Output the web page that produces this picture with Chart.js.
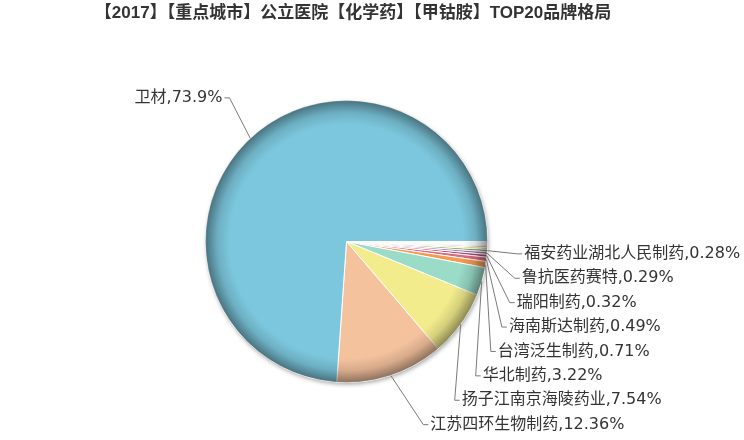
<!DOCTYPE html>
<html>
<head>
<meta charset="utf-8">
<script src="https://cdn.jsdelivr.net/npm/chart.js@4.4.1/dist/chart.umd.min.js"></script>
<style>
  html, body { margin: 0; padding: 0; background: #fff; }
  #wrap { width: 744px; height: 440px; }
</style>
</head>
<body>
<div id="wrap"><canvas id="brandPie" width="744" height="440"></canvas></div>
<script>
const titleText = '【2017】【重点城市】公立医院【化学药】【甲钴胺】TOP20品牌格局';

// TOP20, highest share first (the last eleven have no visible label in the source)
const brands = ['卫材', '江苏四环生物制药', '扬子江南京海陵药业', '华北制药', '台湾泛生制药',
  '海南斯达制药', '瑞阳制药', '鲁抗医药赛特', '福安药业湖北人民制药',
  '其他10', '其他11', '其他12', '其他13', '其他14', '其他15', '其他16',
  '其他17', '其他18', '其他19', '其他20'];
const shares = [73.9, 12.36, 7.54, 3.22, 0.71, 0.49, 0.32, 0.29, 0.28,
  0.20, 0.16, 0.13, 0.10, 0.08, 0.07, 0.05, 0.04, 0.03, 0.02, 0.01];
const colors = ['#7cc7dd', '#f5c29e', '#f2ec8c', '#9adcc8', '#f59a50',
  '#e06a78', '#b04a72', '#9c6cb8', '#7fa84a', '#b8d456',
  '#d64545', '#8ccbe8', '#f2c4c0', '#e6dccf', '#c9a0dc',
  '#f7d36b', '#6fb7a3', '#e4a0a0', '#a0a0d8', '#d8d8d8'];

const labelMin = 0.28;   // smaller slices get no label (no room)
const lineGap = 24.4;

// slices go clockwise from 3 o'clock, smallest first
const pieLabels = brands.slice().reverse();
const pieValues = shares.slice().reverse();
const pieColors = colors.slice().reverse();

const shadePlugin = {
    id: 'shade',
    beforeDatasetsDraw(chart) {
        const arc = chart.getDatasetMeta(0).data[0];
        const ctx = chart.ctx;
        ctx.save();
        ctx.shadowColor = 'rgba(0,0,0,0.35)';
        ctx.shadowBlur = 4;
        ctx.shadowOffsetX = 1;
        ctx.shadowOffsetY = 2;
        ctx.beginPath();
        ctx.arc(arc.x, arc.y, arc.outerRadius, 0, Math.PI * 2);
        ctx.fillStyle = '#fff';
        ctx.fill();
        ctx.restore();
    },
    afterDatasetsDraw(chart) {
        const arc = chart.getDatasetMeta(0).data[0];
        const ctx = chart.ctx;
        const r = arc.outerRadius;
        const g = ctx.createRadialGradient(arc.x, arc.y, r * 0.83, arc.x, arc.y, r);
        g.addColorStop(0, 'rgba(0,0,0,0)');
        g.addColorStop(0.5, 'rgba(0,0,0,0.12)');
        g.addColorStop(1, 'rgba(0,0,0,0.42)');
        ctx.save();
        ctx.beginPath();
        ctx.arc(arc.x, arc.y, r, 0, Math.PI * 2);
        ctx.fillStyle = g;
        ctx.fill();
        ctx.restore();
    }
};

const labelPlugin = {
    id: 'sliceLabels',
    afterDatasetsDraw(chart) {
        const meta = chart.getDatasetMeta(0);
        const values = chart.data.datasets[0].data;
        const ctx = chart.ctx;
        const items = [];
        meta.data.forEach((arc, i) => {
            if (values[i] < labelMin) return;
            const mid = (arc.startAngle + arc.endAngle) / 2;
            const cos = Math.cos(mid), sin = Math.sin(mid);
            const r = arc.outerRadius;
            items.push({
                text: chart.data.labels[i] + ',' + values[i] + '%',
                right: cos >= 0,
                ex: arc.x + r * cos, ey: arc.y + r * sin,
                ny: arc.y + (r + 50) * sin + (cos < 0 ? -4 : 0),
                cx: arc.x, cy: arc.y, r: r
            });
        });
        [true, false].forEach(side => {
            const list = items.filter(it => it.right === side).sort((a, b) => a.ny - b.ny);
            let prev = -Infinity;
            list.forEach(it => { it.ly = Math.max(it.ny, prev + lineGap); prev = it.ly; });
        });

        ctx.save();
        ctx.font = '16px "DejaVu Sans", "Noto Sans CJK SC", sans-serif';
        ctx.textBaseline = 'middle';
        ctx.lineWidth = 1;
        ctx.strokeStyle = '#7a7a7a';
        ctx.fillStyle = '#333';
        items.forEach(it => {
            const a = it.r + 30, b = it.r + 64;
            const dy = Math.min(Math.abs(it.ly - it.cy), b);
            const dx = a * Math.sqrt(1 - (dy / b) * (dy / b)) - (it.right ? 0 : 5);
            const dir = it.right ? 1 : -1;
            const bx = it.cx + dir * dx;
            ctx.beginPath();
            ctx.moveTo(it.ex, it.ey);
            ctx.lineTo(bx, it.ly);
            ctx.lineTo(bx + dir * 5, it.ly);
            ctx.stroke();
            ctx.textAlign = it.right ? 'left' : 'right';
            ctx.fillText(it.text, bx + dir * 7, it.ly);
        });
        ctx.restore();
    }
};

const titlePlugin = {
    id: 'topTitle',
    afterDraw(chart) {
        const ctx = chart.ctx;
        ctx.save();
        ctx.font = 'bold 17px "Liberation Sans", "Noto Sans CJK SC", sans-serif';
        ctx.fillStyle = '#333';
        ctx.textAlign = 'center';
        ctx.textBaseline = 'middle';
        ctx.fillText(titleText, chart.width / 2 - 19, 13);
        ctx.restore();
    }
};

const ctx = document.getElementById('brandPie').getContext('2d');

new Chart(ctx, {
    type: 'pie',
    data: {
        labels: pieLabels,
        datasets: [{
            data: pieValues,
            backgroundColor: pieColors,
            borderColor: '#fff',
            borderWidth: 1,
            hoverOffset: 0
        }]
    },
    options: {
        responsive: false,
        animation: false,
        rotation: 90,
        layout: { padding: { top: 100, bottom: 57, left: 205, right: 256 } },
        plugins: {
            legend: { display: false },
            tooltip: { enabled: false },
            title: { display: false }
        }
    },
    plugins: [shadePlugin, labelPlugin, titlePlugin]
});
</script>
</body>
</html>
